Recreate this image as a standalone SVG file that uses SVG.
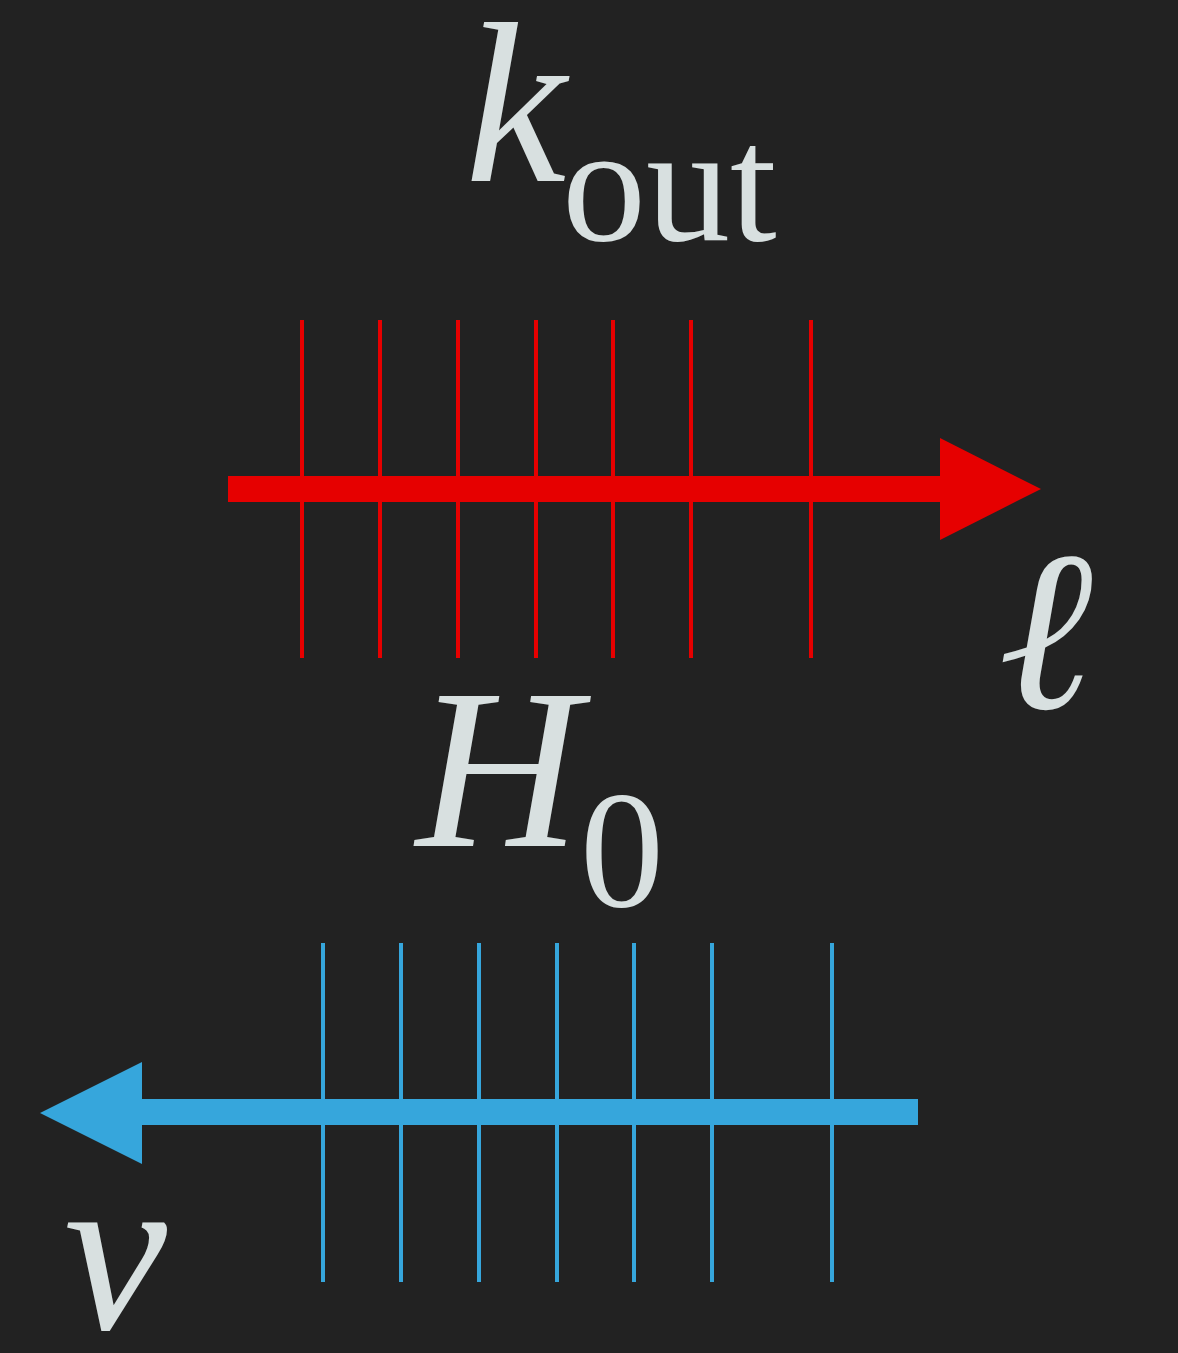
<svg xmlns="http://www.w3.org/2000/svg" width="1178" height="1353" viewBox="0 0 1178 1353">
<style>
.rt{stroke:#e60000;stroke-width:4}
.bt{stroke:#36a6dc;stroke-width:4}
</style>
<rect width="1178" height="1353" fill="#222222"/>
<g id="label-kout">
<text x="465" y="181" font-size="228" fill="#d8e0e0" font-family="Liberation Serif"><tspan font-style="italic">k</tspan><tspan font-size="168" y="240" x="562">out</tspan></text>
</g>
<g id="label-ell">
<text x="998" y="708" font-size="228" fill="#d8e0e0" font-family="Liberation Serif" font-style="italic">ℓ</text>
</g>
<g id="label-H0">
<text x="416" y="846" font-size="228" fill="#d8e0e0" font-family="Liberation Serif"><tspan font-style="italic">H</tspan><tspan font-size="168" y="906" x="580">0</tspan></text>
</g>
<g id="label-nu">
<text x="64" y="1329" font-size="232" fill="#d8e0e0" font-family="Liberation Serif" font-style="italic">ν</text>
</g>
<g id="red-axis">
<line class="rt" x1="302" y1="320" x2="302" y2="658"/>
<line class="rt" x1="380" y1="320" x2="380" y2="658"/>
<line class="rt" x1="458" y1="320" x2="458" y2="658"/>
<line class="rt" x1="536" y1="320" x2="536" y2="658"/>
<line class="rt" x1="613" y1="320" x2="613" y2="658"/>
<line class="rt" x1="691" y1="320" x2="691" y2="658"/>
<line class="rt" x1="811" y1="320" x2="811" y2="658"/>
</g>
<g id="blue-axis">
<line class="bt" x1="323" y1="943" x2="323" y2="1282"/>
<line class="bt" x1="401" y1="943" x2="401" y2="1282"/>
<line class="bt" x1="479" y1="943" x2="479" y2="1282"/>
<line class="bt" x1="557" y1="943" x2="557" y2="1282"/>
<line class="bt" x1="634" y1="943" x2="634" y2="1282"/>
<line class="bt" x1="712" y1="943" x2="712" y2="1282"/>
<line class="bt" x1="832" y1="943" x2="832" y2="1282"/>
</g>
<g id="connectors">
<path d="M228 476 H940 V438 L1041 489 L940 540 V502 H228 Z" fill="#e60000"/>
<path d="M918 1099 H142 V1062 L40 1113 L142 1164 V1125 H918 Z" fill="#36a6dc"/>
</g>
</svg>
